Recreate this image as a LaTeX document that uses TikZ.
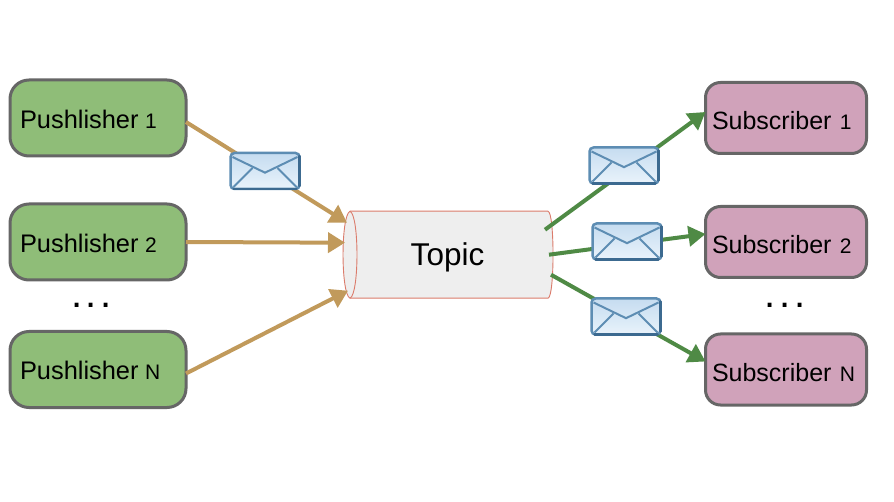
\documentclass[tikz,border=0pt]{standalone}
\usepackage{fontspec}
\setmainfont{Liberation Sans}
\usetikzlibrary{arrows.meta,calc}
\definecolor{pubfill}{HTML}{8FBD78}
\definecolor{subfill}{HTML}{D0A2BA}
\definecolor{boxedge}{HTML}{666666}
\definecolor{tanline}{HTML}{C19A5B}
\definecolor{grn}{HTML}{4F8A45}
\definecolor{topicedge}{HTML}{DB7B6B}
\definecolor{topicfill}{HTML}{EEEEEE}
\definecolor{envedge}{HTML}{5D8DB3}
\definecolor{envdark}{HTML}{3C6A90}
\definecolor{envtop}{HTML}{C5DCF0}
\definecolor{envbot}{HTML}{E9F3FB}
\newcommand{\numsize}{\fontsize{21}{24}\selectfont}
\tikzset{
  x=1pt,y=-1pt,
  base/.style={draw=boxedge,line width=3pt,rounded corners=19pt,outer sep=0pt,inner ysep=0pt,inner xsep=0pt,align=left,text depth=0pt},
  pubbox/.style={base,fill=pubfill,minimum width=176pt,minimum height=76pt,text width=156pt,font=\fontsize{25.4}{30}\selectfont,text height=20.6pt},
  subbox/.style={base,fill=subfill,minimum width=161pt,minimum height=71pt,text width=148pt,rounded corners=15pt,font=\fontsize{25}{30}\selectfont,text height=24pt},
  pubarrow/.style={draw=tanline,line width=4pt,-{Triangle[length=17pt,width=20pt]}},
  subarrow/.style={draw=grn,line width=4pt,-{Triangle[length=17pt,width=20pt]}},
  envbox/.style={draw=envedge,line width=2.5pt,rounded corners=4pt,top color=envtop,bottom color=envbot,minimum width=69pt,minimum height=36pt,inner sep=0pt,outer sep=0pt},
  envline/.style={draw=envedge,line width=2pt},
  envshade/.style={draw=envdark,line width=2.5pt,line cap=round},
  dots/.style={font=\fontsize{40}{44}\selectfont,inner sep=0pt,anchor=base},
  topicbody/.style={minimum width=198pt,minimum height=87pt,inner sep=0pt,outer sep=0pt},
  topicline/.style={draw=topicedge,line width=0.9pt,fill=topicfill},
}
\newcommand{\envmark}[3]{%
  \node[envbox] (#1) at (#2,#3) {};
  \draw[envline] ($(#1.north west)+(2,4)$) -- ($(#1.south west)!0.62!(#1.north west)+(34.5,6)$) -- ($(#1.north east)+(-2,4)$);
  \draw[envline] ($(#1.south west)+(3,-2)$) -- ($(#1.north west)+(22,15)$);
  \draw[envline] ($(#1.south east)+(-3,-2)$) -- ($(#1.north east)+(-22,15)$);
  \draw[envshade] ($(#1.south west)+(3,0)$) -- ($(#1.south east)+(-3,0)$);
  \draw[envshade] ($(#1.south east)+(0,-3)$) -- ($(#1.north east)+(0,3)$);
}
\begin{document}
\begin{tikzpicture}
\useasboundingbox (0,0) rectangle (894,502);
\fill[white] (0,0) rectangle (894,502);

\node[pubbox] (p1) at (98,118) {Pushlisher\hspace{-2pt} {\numsize 1}};
\node[pubbox] (p2) at (98,242) {Pushlisher\hspace{-2pt} {\numsize 2}};
\node[pubbox] (pn) at (98,369.5) {Pushlisher\hspace{-2pt} {\numsize N}};
\node[subbox] (s1) at (786,118) {Subscriber {\numsize 1}};
\node[subbox] (s2) at (786,242) {Subscriber {\numsize 2}};
\node[subbox] (sn) at (786,369.5) {Subscriber {\numsize N}};
\node[dots] (dl) at (91.5,308) {.\hspace{3.5pt}.\hspace{3.5pt}.};
\node[dots] (dr) at (785,308) {.\hspace{3.5pt}.\hspace{3.5pt}.};

\node[topicbody] (topic) at (449,254.7) {};
\path[topicline] (topic.north west) -- (topic.north east)
  .. controls ($(topic.north east)+(6.7,1)$) and ($(topic.south east)+(6.7,-1)$) .. (topic.south east)
  -- (topic.south west)
  .. controls ($(topic.south west)+(-9.3,-4)$) and ($(topic.north west)+(-9.3,4)$) .. (topic.north west) -- cycle;
\path[topicline] (topic.north west)
  .. controls ($(topic.north west)+(9.3,4)$) and ($(topic.south west)+(9.3,-4)$) .. (topic.south west);
\node[font=\fontsize{31.5}{36}\selectfont,inner sep=0pt] (topiclabel) at (447.5,257) {Topic};

\draw[pubarrow] ([yshift=-4pt]p1.east) -- ([xshift=-3pt,yshift=32pt]topic.west);
\draw[pubarrow] (p2.east) -- ([xshift=-5pt,yshift=12pt]topic.west);
\draw[pubarrow] ([yshift=-4pt]pn.east) -- ([xshift=-2pt,yshift=-36pt]topic.west);
\draw[subarrow] ([xshift=-3pt,yshift=25pt]topic.east) -- ([yshift=6pt]s1.west);
\draw[subarrow] ([xshift=1pt]topic.east) -- ([yshift=8pt]s2.west);
\draw[subarrow] ([xshift=3pt,yshift=-20pt]topic.east) -- ([yshift=8pt]sn.west);

\envmark{e1}{265}{171}
\envmark{e2}{624}{165.5}
\envmark{e3}{627}{241.5}
\envmark{e4}{626}{316.5}
\end{tikzpicture}
\end{document}
